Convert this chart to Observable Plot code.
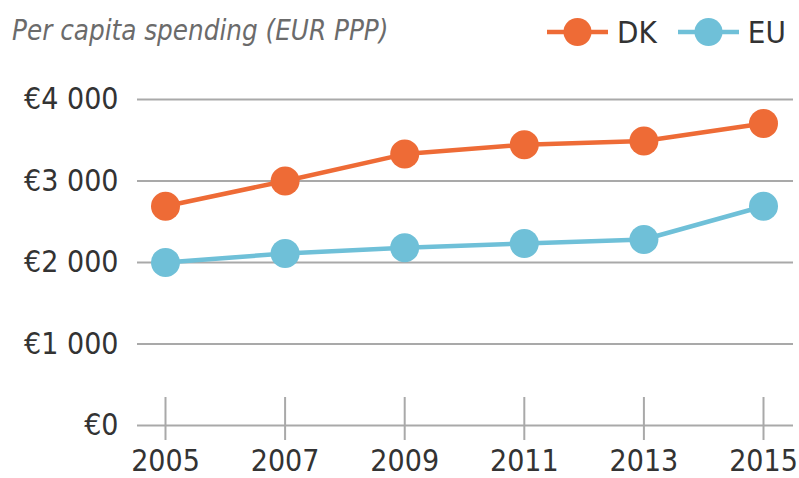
<!DOCTYPE html>
<html>
<head>
<meta charset="utf-8">
<script src="https://cdn.jsdelivr.net/npm/d3@7"></script>
<script src="https://cdn.jsdelivr.net/npm/@observablehq/plot@0.6"></script>
<style>
  html, body { margin: 0; padding: 0; background: #fff; }
  #wrap { position: relative; width: 799px; height: 478px; font-family: "DejaVu Sans Condensed", "DejaVu Sans", sans-serif; font-stretch: condensed; }
  #title { position: absolute; left: 12px; top: 14px; font-size: 27.5px; font-style: italic; color: #6b6b6b; white-space: nowrap; }
  #legend { position: absolute; left: 547px; top: 14px; display: flex; align-items: center; font-size: 31px; color: #333; }
  #legend .item { display: flex; align-items: center; margin-right: 21px; }
  #legend svg { margin-right: 9px; }
</style>
</head>
<body>
<div id="wrap">
  <div id="title">Per capita spending (EUR PPP)</div>
  <div id="legend"></div>
  <div id="chart"></div>
</div>
<script>
const years = [2005, 2007, 2009, 2011, 2013, 2015];
const dkValues = [2690, 3000, 3330, 3445, 3490, 3705];
const euValues = [2000, 2110, 2180, 2233, 2282, 2690];
const seriesNames = ["DK", "EU"];
const seriesColors = ["#ee6b36", "#6fc0d8"];
const yTicks = [0, 1000, 2000, 3000, 4000];

const data = [
  ...years.map((y, i) => ({year: y, value: dkValues[i], series: "DK"})),
  ...years.map((y, i) => ({year: y, value: euValues[i], series: "EU"}))
];

const fmt = d3.formatLocale({decimal: ".", thousands: " ", grouping: [3], currency: ["€", ""]}).format("$,");

const chart = Plot.plot({
  width: 799,
  height: 478,
  marginTop: 99,
  marginBottom: 53,
  marginLeft: 165,
  marginRight: 36,
  style: {fontFamily: '"DejaVu Sans Condensed", "DejaVu Sans", sans-serif', fontSize: "30px", color: "#333", background: "transparent", overflow: "visible"},
  x: {domain: [2005, 2015], axis: null, label: null},
  y: {domain: [0, 4000], axis: null, label: null},
  color: {domain: seriesNames, range: seriesColors},
  marks: [
    Plot.ruleY(yTicks, {stroke: "#a9a9a9", strokeWidth: 2, insetLeft: -28, insetRight: -30}),
    Plot.ruleX(years, {x: d => d, y1: 0, y2: 0, stroke: "#a9a9a9", strokeWidth: 2, insetTop: -28, insetBottom: -15}),
    Plot.axisX(years, {tickSize: 0, tickPadding: 24, tickFormat: d => String(d), fontSize: 30, fill: "#333", label: null}),
    Plot.axisY(yTicks, {tickSize: 0, tickPadding: 47, tickFormat: fmt, fontSize: 30, fill: "#333", label: null}),
    Plot.line(data, {x: "year", y: "value", z: "series", stroke: "series", strokeWidth: 4.5}),
    Plot.dot(data, {x: "year", y: "value", fill: "series", r: 14.5})
  ]
});
document.getElementById("chart").appendChild(chart);

const legend = document.getElementById("legend");
seriesNames.forEach((name, i) => {
  const item = document.createElement("div");
  item.className = "item";
  item.innerHTML = `<svg width="61" height="30"><line x1="0" y1="15" x2="61" y2="15" stroke="${seriesColors[i]}" stroke-width="4.5"/><circle cx="30.5" cy="15" r="14" fill="${seriesColors[i]}"/></svg><span>${name}</span>`;
  legend.appendChild(item);
});
</script>
</body>
</html>
